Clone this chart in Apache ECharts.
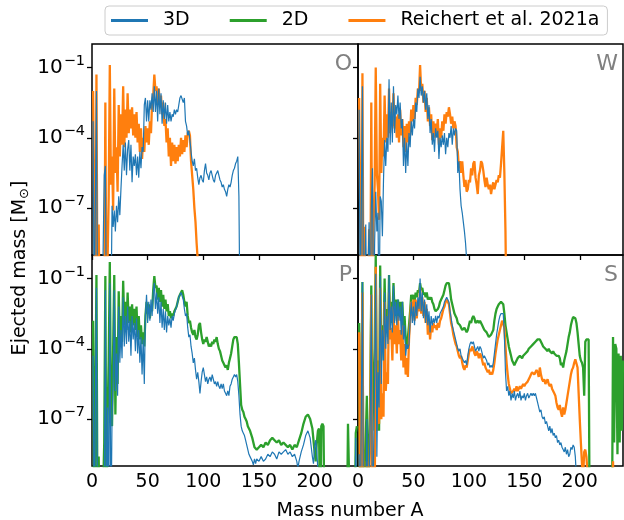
<!DOCTYPE html>
<html><head><meta charset="utf-8">
<script src="https://cdn.jsdelivr.net/npm/echarts@6/dist/echarts.min.js"></script>
<style>html,body{margin:0;padding:0;background:#fff}#c{width:624px;height:520px}</style>
</head><body><div id="c"></div>
<script>
// Panel labels and legend names
const PANEL_LABELS = ['O', 'W', 'P', 'S'];
const NAME_3D = '3D', NAME_2D = '2D', NAME_R21 = 'Reichert et al. 2021a';
// Axis ticks: mass number A, and log10 of ejected mass (decade exponents)
const X_MIN = 0, X_MAX = 239, X_STEP = 50;
const Y_MIN_EXP = -9, Y_MAX_EXP = 0;
const Y_TICK_EXP = [-7, -4, -1];

// Data: [mass number A, log10(ejected mass / Msun)]; values below 1e-9 leave the plot
const O_3D = [[1,-3.3],[2,-12],[3,-12],[4,-2.0],[5,-12],[6,-12],[7,-12],[8,-12],[9,-12],[10,-12],[11,-5.6],[12,-5.2],[13,-12],[14,-12],[15,-12],[16,-12],[17,-12],[18,-6.9],[19,-7.8],[20,-7.1],[21,-8.0],[22,-6.9],[23,-7.6],[24,-6.5],[25,-7.3],[26,-6.2],[27,-5.2],[28,-4.3],[29,-5.4],[30,-4.2],[31,-5.6],[32,-4.5],[33,-4.1],[34,-5.4],[35,-4.3],[36,-5.9],[37,-4.8],[38,-5.2],[39,-4.7],[40,-5.6],[41,-4.8],[42,-5.7],[43,-4.6],[44,-5.3],[45,-4.4],[46,-4.6],[47,-2.6],[48,-2.3],[49,-3.3],[50,-2.4],[51,-3.3],[52,-2.4],[53,-2.8],[54,-2.1],[55,-2.9],[56,-1.8],[57,-2.9],[58,-2.0],[59,-3.3],[60,-1.9],[61,-3.0],[62,-2.1],[63,-3.4],[64,-2.4],[65,-3.2],[66,-2.5],[67,-3.4],[68,-2.6],[69,-3.3],[70,-2.9],[71,-3.3],[72,-3.0],[73,-3.1],[74,-2.8],[75,-3.0],[76,-2.8],[77,-2.9],[78,-2.6],[79,-2.3],[80,-2.2],[81,-2.2],[82,-2.5],[83,-2.3],[84,-3.3],[85,-3.5],[86,-3.9],[87,-3.7],[88,-4.1],[89,-4.6],[90,-5.0],[91,-5.2],[92,-4.9],[93,-5.4],[94,-5.3],[95,-5.7],[96,-6.0],[97,-5.7],[98,-5.6],[99,-5.8],[100,-5.9],[101,-5.4],[102,-5.1],[103,-5.5],[104,-5.6],[105,-5.8],[106,-5.5],[107,-5.4],[108,-5.6],[109,-5.8],[110,-5.9],[111,-5.6],[112,-5.5],[113,-5.4],[114,-5.6],[115,-5.8],[116,-5.9],[117,-6.1],[118,-6.0],[119,-6.2],[120,-6.3],[121,-6.5],[122,-6.2],[123,-6.0],[124,-6.1],[125,-5.9],[126,-5.6],[127,-5.4],[128,-5.3],[129,-5.1],[130,-5.0],[131,-4.8],[132,-6.5],[133,-12]];
const O_R21 = [[1,-2.0],[2,-2.0],[3,-12],[4,-1.3],[5,-12],[6,-7.7],[7,-12],[8,-12],[9,-12],[10,-12],[11,-12],[12,-2.5],[13,-12],[14,-12],[15,-6.5],[16,-0.9],[17,-6.0],[18,-4.8],[19,-7.1],[20,-1.9],[21,-5.5],[22,-4.4],[23,-6.3],[24,-2.6],[25,-4.8],[26,-3.0],[27,-4.3],[28,-1.8],[29,-4.4],[30,-2.8],[31,-4.0],[32,-2.1],[33,-3.8],[34,-2.8],[35,-3.6],[36,-2.7],[37,-3.9],[38,-3.0],[39,-4.0],[40,-2.9],[41,-4.2],[42,-3.4],[43,-4.6],[44,-3.6],[45,-4.9],[46,-4.0],[47,-4.6],[48,-3.5],[49,-4.2],[50,-3.6],[51,-4.3],[52,-3.3],[53,-3.8],[54,-2.5],[55,-2.2],[56,-1.3],[57,-2.0],[58,-1.8],[59,-2.6],[60,-1.9],[61,-2.7],[62,-2.2],[63,-3.0],[64,-2.5],[65,-3.5],[66,-3.2],[67,-4.2],[68,-3.6],[69,-4.8],[70,-4.0],[71,-5.2],[72,-4.2],[73,-5.0],[74,-4.3],[75,-5.1],[76,-4.4],[77,-5.0],[78,-4.3],[79,-4.8],[80,-4.0],[81,-4.7],[82,-4.1],[83,-4.6],[84,-3.9],[85,-4.4],[86,-3.8],[87,-3.7],[88,-3.9],[89,-5.0],[90,-5.6],[91,-6.2],[92,-7.0],[93,-7.6],[94,-8.5],[95,-9.2],[96,-12]];
const W_3D = [[1,-2.8],[2,-12],[3,-12],[4,-1.8],[5,-12],[6,-12],[7,-7.7],[8,-12],[9,-12],[10,-7.6],[11,-12],[12,-7.0],[13,-5.3],[14,-12],[15,-8.5],[16,-6.3],[17,-8.0],[18,-7.2],[19,-12],[20,-6.5],[21,-6.7],[22,-8.2],[23,-5.8],[24,-4.1],[25,-5.2],[26,-4.0],[27,-4.6],[28,-1.5],[29,-4.3],[30,-2.5],[31,-4.2],[32,-1.8],[33,-3.8],[34,-2.6],[35,-3.0],[36,-2.2],[37,-3.2],[38,-2.5],[39,-3.6],[40,-3.2],[41,-5.2],[42,-4.0],[43,-5.5],[44,-4.2],[45,-5.2],[46,-3.8],[47,-4.4],[48,-3.3],[49,-3.9],[50,-3.2],[51,-3.6],[52,-2.5],[53,-2.9],[54,-1.9],[55,-2.3],[56,-1.4],[57,-2.2],[58,-1.8],[59,-2.5],[60,-2.0],[61,-2.8],[62,-2.1],[63,-3.2],[64,-2.6],[65,-3.8],[66,-3.2],[67,-4.3],[68,-3.8],[69,-4.6],[70,-3.6],[71,-4.0],[72,-3.7],[73,-4.9],[74,-4.0],[75,-4.4],[76,-3.9],[77,-4.3],[78,-3.8],[79,-4.7],[80,-4.0],[81,-4.4],[82,-3.8],[83,-4.0],[84,-3.5],[85,-4.3],[86,-3.6],[87,-3.9],[88,-3.6],[89,-3.7],[90,-5.5],[91,-5.0],[92,-6.2],[93,-6.9],[94,-7.2],[95,-7.6],[96,-8.0],[97,-8.5],[98,-9.2],[99,-12]];
const W_R21 = [[1,-2.3],[2,-2.3],[3,-12],[4,-1.25],[5,-12],[6,-7.8],[7,-12],[8,-12],[9,-12],[10,-7.9],[11,-12],[12,-2.5],[13,-12],[14,-7.6],[15,-6.0],[16,-1.0],[17,-5.5],[18,-6.2],[19,-7.5],[20,-1.7],[21,-5.5],[22,-4.0],[23,-4.8],[24,-2.2],[25,-4.2],[26,-3.0],[27,-4.0],[28,-1.9],[29,-3.8],[30,-2.9],[31,-3.5],[32,-2.1],[33,-3.6],[34,-3.1],[35,-4.0],[36,-3.0],[37,-4.2],[38,-2.8],[39,-3.9],[40,-3.2],[41,-4.4],[42,-3.5],[43,-4.6],[44,-3.4],[45,-4.2],[46,-3.3],[47,-3.9],[48,-2.8],[49,-3.3],[50,-2.6],[51,-3.2],[52,-2.3],[53,-2.6],[54,-1.9],[55,-2.1],[56,-0.9],[57,-2.0],[58,-1.7],[59,-2.5],[60,-2.0],[61,-2.9],[62,-2.3],[63,-3.3],[64,-2.7],[65,-3.5],[66,-3.0],[67,-4.1],[68,-3.3],[69,-4.0],[70,-3.4],[71,-3.8],[72,-3.2],[73,-4.3],[74,-3.6],[75,-4.0],[76,-3.3],[77,-3.7],[78,-3.0],[79,-3.4],[80,-2.9],[81,-3.1],[82,-2.7],[83,-3.0],[84,-3.4],[85,-3.1],[86,-3.6],[87,-3.3],[88,-3.5],[89,-4.4],[90,-4.6],[91,-5.3],[92,-5.0],[93,-5.5],[94,-5.0],[95,-5.6],[96,-6.1],[97,-5.8],[98,-6.3],[99,-6.2],[100,-5.8],[101,-5.9],[102,-5.3],[103,-5.6],[104,-5.1],[105,-5.0],[106,-5.7],[107,-6.0],[108,-6.4],[109,-5.6],[110,-5.4],[111,-5.0],[112,-5.1],[113,-5.4],[114,-5.8],[115,-6.1],[116,-5.7],[117,-6.0],[118,-6.2],[119,-6.0],[120,-6.4],[121,-6.1],[122,-5.9],[123,-6.2],[124,-6.0],[125,-5.8],[126,-5.9],[127,-5.6],[128,-5.7],[129,-5.1],[130,-4.4],[131,-3.7],[132,-5.5],[133,-8.0],[134,-12]];
const P_3D = [[1,-4.3],[2,-12],[3,-12],[4,-1.4],[5,-12],[6,-12],[7,-12],[8,-12],[9,-12],[10,-12],[11,-12],[12,-1.5],[13,-12],[14,-6.5],[15,-12],[16,-1.2],[17,-12],[18,-6.9],[19,-5.6],[20,-1.5],[21,-5.8],[22,-4.2],[23,-6.0],[24,-2.2],[25,-4.6],[26,-3.2],[27,-4.4],[28,-1.8],[29,-3.9],[30,-2.6],[31,-3.8],[32,-2.2],[33,-3.7],[34,-2.8],[35,-4.3],[36,-2.6],[37,-3.6],[38,-2.9],[39,-4.1],[40,-2.7],[41,-4.2],[42,-3.2],[43,-4.6],[44,-3.5],[45,-5.1],[46,-3.6],[47,-5.5],[48,-2.6],[49,-1.7],[50,-2.9],[51,-2.0],[52,-2.8],[53,-1.9],[54,-2.6],[55,-1.6],[56,-1.2],[57,-2.3],[58,-1.6],[59,-2.5],[60,-1.8],[61,-2.9],[62,-2.0],[63,-3.1],[64,-2.3],[65,-3.2],[66,-2.4],[67,-3.3],[68,-2.6],[69,-3.0],[70,-2.7],[71,-3.1],[72,-2.6],[73,-2.8],[74,-2.5],[75,-2.5],[76,-2.2],[77,-2.0],[78,-1.8],[79,-1.7],[80,-1.6],[81,-1.6],[82,-1.9],[83,-2.3],[84,-2.6],[85,-2.5],[86,-3.1],[87,-3.5],[88,-3.4],[89,-3.9],[90,-4.2],[91,-4.6],[92,-4.4],[93,-4.9],[94,-5.3],[95,-5.0],[96,-5.4],[97,-5.9],[98,-5.4],[99,-5.0],[100,-4.8],[101,-5.1],[102,-5.4],[103,-5.2],[104,-5.5],[105,-5.3],[106,-5.2],[107,-5.4],[108,-5.1],[109,-5.3],[110,-5.5],[111,-5.4],[112,-5.6],[113,-5.4],[114,-5.6],[115,-5.7],[116,-5.5],[117,-5.7],[118,-5.5],[119,-5.8],[120,-5.9],[121,-6.0],[122,-5.8],[123,-6.0],[124,-5.6],[125,-5.5],[126,-5.3],[127,-5.2],[128,-5.1],[129,-5.2],[130,-5.1],[131,-5.4],[132,-6.0],[133,-6.8],[134,-7.3],[135,-7.5],[136,-7.6],[137,-7.7],[138,-7.9],[139,-8.1],[140,-8.3],[141,-8.5],[142,-8.6],[144,-8.8],[145,-8.95],[146,-8.7],[147,-8.9],[148,-8.7],[150,-8.8],[152,-8.6],[154,-8.8],[156,-8.7],[158,-8.5],[160,-8.6],[162,-8.4],[164,-8.5],[166,-8.7],[168,-8.4],[170,-8.5],[172,-8.4],[174,-8.3],[176,-8.5],[178,-8.4],[180,-8.6],[182,-8.5],[184,-8.8],[185,-9.1],[186,-8.8],[188,-8.4],[190,-8.1],[192,-7.7],[194,-7.5],[195,-7.5],[196,-7.8],[197,-8.2],[198,-8.6],[199,-8.9],[200,-8.2],[201,-7.9],[202,-8.4],[203,-9.2],[204,-12],[236,-12],[237,-7.8],[238,-12]];
const P_2D = [[1,-2.8],[2,-12],[3,-12],[4,-0.85],[5,-12],[6,-8.6],[7,-12],[8,-12],[9,-12],[10,-12],[11,-8.0],[12,-0.9],[13,-12],[14,-7.0],[15,-4.5],[16,-0.3],[17,-6.5],[18,-7.3],[19,-4.0],[20,-0.85],[21,-6.8],[22,-3.5],[23,-5.5],[24,-1.55],[25,-3.8],[26,-2.6],[27,-3.7],[28,-1.1],[29,-3.0],[30,-2.0],[31,-3.2],[32,-1.6],[33,-2.9],[34,-2.2],[35,-3.3],[36,-2.1],[37,-3.0],[38,-2.3],[39,-3.2],[40,-2.2],[41,-3.5],[42,-2.6],[43,-3.6],[44,-3.0],[45,-3.8],[46,-3.3],[47,-3.9],[48,-2.6],[49,-2.0],[50,-2.5],[51,-2.1],[52,-2.7],[53,-2.2],[54,-2.4],[55,-1.5],[56,-0.9],[57,-1.4],[58,-1.3],[59,-1.9],[60,-1.4],[61,-2.0],[62,-1.5],[63,-2.2],[64,-1.7],[65,-2.3],[66,-1.9],[67,-2.4],[68,-2.1],[69,-2.6],[70,-2.4],[71,-2.7],[72,-2.5],[73,-2.6],[74,-2.4],[75,-2.4],[76,-2.2],[77,-2.0],[78,-1.8],[79,-1.7],[80,-1.6],[81,-1.5],[82,-1.7],[83,-2.0],[84,-2.2],[85,-2.0],[86,-2.6],[87,-2.9],[88,-2.8],[89,-3.1],[90,-3.3],[91,-3.4],[92,-3.2],[93,-3.5],[94,-3.6],[95,-3.4],[96,-3.0],[97,-2.9],[98,-3.3],[99,-3.6],[100,-3.8],[101,-3.6],[102,-3.7],[103,-3.5],[104,-3.7],[105,-3.9],[106,-3.8],[107,-3.9],[108,-3.7],[109,-3.8],[110,-3.6],[111,-3.7],[112,-3.5],[113,-3.8],[114,-4.0],[115,-4.1],[116,-4.3],[117,-4.5],[118,-4.6],[119,-4.7],[120,-4.8],[121,-4.7],[122,-4.9],[123,-4.6],[124,-4.4],[125,-4.2],[126,-3.9],[127,-3.6],[128,-3.5],[129,-3.45],[130,-3.5],[131,-3.8],[132,-4.6],[133,-5.5],[134,-6.4],[135,-6.6],[136,-6.7],[137,-6.9],[138,-7.0],[139,-7.1],[140,-7.3],[142,-7.5],[144,-7.8],[146,-8.2],[148,-8.3],[150,-8.2],[152,-8.1],[154,-8.2],[156,-8.0],[158,-8.1],[160,-7.9],[162,-7.8],[164,-7.9],[166,-8.0],[168,-7.9],[170,-8.1],[172,-8.0],[174,-8.1],[176,-8.2],[178,-8.1],[180,-8.3],[182,-8.1],[184,-8.2],[186,-7.9],[188,-7.6],[190,-7.2],[192,-6.9],[194,-6.8],[196,-7.0],[198,-7.4],[199,-7.9],[200,-8.4],[201,-8.8],[202,-8.0],[203,-7.5],[204,-7.4],[205,-12],[206,-7.3],[207,-7.2],[208,-7.3],[209,-12],[229,-12],[230,-7.2],[231,-9.5],[232,-12],[236,-12],[237,-7.6],[238,-7.3]];
const S_3D = [[1,-8.5],[2,-12],[3,-12],[4,-1.15],[5,-12],[6,-12],[7,-12],[8,-7.0],[9,-12],[10,-12],[11,-7.0],[12,-1.7],[13,-12],[14,-8.7],[15,-5.2],[16,-0.8],[17,-8.6],[18,-5.0],[19,-6.5],[20,-0.9],[21,-5.5],[22,-3.2],[23,-4.5],[24,-1.6],[25,-4.0],[26,-2.6],[27,-3.8],[28,-0.85],[29,-3.2],[30,-2.2],[31,-3.3],[32,-1.3],[33,-2.9],[34,-2.0],[35,-3.0],[36,-1.9],[37,-2.8],[38,-2.2],[39,-3.4],[40,-2.0],[41,-3.6],[42,-3.0],[43,-4.3],[44,-3.8],[45,-4.0],[46,-3.8],[47,-2.8],[48,-2.0],[49,-2.9],[50,-2.2],[51,-3.0],[52,-2.0],[53,-2.6],[54,-1.8],[55,-2.3],[56,-1.0],[57,-2.4],[58,-1.6],[59,-2.7],[60,-1.9],[61,-2.9],[62,-2.1],[63,-3.0],[64,-2.4],[65,-3.3],[66,-2.6],[67,-3.0],[68,-2.7],[69,-2.9],[70,-2.6],[71,-2.9],[72,-2.6],[73,-2.7],[74,-2.5],[75,-2.4],[76,-2.3],[77,-2.2],[78,-2.0],[79,-1.9],[80,-1.8],[81,-1.85],[82,-2.0],[83,-2.4],[84,-2.7],[85,-3.0],[86,-3.2],[87,-3.4],[88,-3.6],[89,-3.8],[90,-4.0],[91,-4.1],[92,-4.0],[93,-4.3],[94,-4.4],[95,-4.5],[96,-4.6],[97,-4.5],[98,-4.7],[99,-4.3],[100,-4.0],[101,-3.8],[102,-3.7],[103,-3.8],[104,-3.7],[105,-3.9],[106,-4.1],[107,-4.0],[108,-3.9],[109,-4.1],[110,-3.9],[111,-4.0],[112,-4.2],[113,-4.4],[114,-4.3],[115,-4.4],[116,-4.5],[117,-4.7],[118,-4.6],[119,-4.8],[120,-4.7],[121,-4.8],[122,-4.6],[123,-4.2],[124,-3.8],[125,-3.4],[126,-3.1],[127,-2.8],[128,-2.6],[129,-2.5],[130,-2.45],[131,-2.5],[132,-3.4],[133,-5.0],[134,-5.8],[135,-5.6],[136,-6.0],[137,-5.8],[138,-6.2],[139,-5.9],[140,-6.1],[141,-5.8],[142,-6.2],[143,-6.0],[144,-5.9],[145,-6.1],[146,-5.8],[147,-6.2],[148,-6.0],[149,-6.1],[150,-5.9],[151,-6.2],[152,-6.0],[153,-5.9],[154,-6.1],[155,-6.0],[156,-5.9],[157,-6.0],[158,-5.9],[159,-6.0],[160,-5.9],[161,-6.1],[162,-6.3],[163,-6.5],[164,-6.7],[165,-6.6],[166,-6.9],[167,-7.0],[168,-6.9],[169,-7.2],[170,-7.1],[171,-7.3],[172,-7.5],[173,-7.3],[174,-7.6],[175,-7.4],[176,-7.7],[177,-7.6],[178,-7.8],[179,-7.7],[180,-8.0],[181,-7.9],[182,-8.1],[183,-8.0],[184,-8.2],[185,-8.3],[186,-8.4],[187,-8.2],[188,-8.5],[189,-8.3],[190,-8.6],[191,-8.5],[192,-8.2],[193,-8.3],[194,-8.1],[195,-8.2],[196,-8.6],[197,-9.5],[198,-12]];
const S_2D = [[1,-2.9],[2,-12],[3,-12],[4,-1.15],[5,-12],[6,-12],[7,-7.8],[8,-6.0],[9,-12],[10,-8.5],[11,-6.2],[12,-1.3],[13,-7.5],[14,-5.5],[15,-4.0],[16,0.0],[17,-6.0],[18,-4.5],[19,-7.5],[20,-0.45],[21,-4.5],[22,-3.0],[23,-3.8],[24,-1.0],[25,-3.3],[26,-2.3],[27,-3.5],[28,-0.85],[29,-3.0],[30,-2.0],[31,-2.9],[32,-1.2],[33,-2.6],[34,-1.9],[35,-2.8],[36,-1.9],[37,-2.6],[38,-2.0],[39,-2.8],[40,-2.0],[41,-3.2],[42,-2.6],[43,-3.6],[44,-4.0],[45,-3.5],[46,-3.0],[47,-2.4],[48,-1.7],[49,-1.9],[50,-1.7],[51,-2.0],[52,-1.6],[53,-1.8],[54,-1.5],[55,-1.6],[56,-1.2],[57,-1.5],[58,-1.4],[59,-1.7],[60,-1.6],[61,-1.8],[62,-1.6],[63,-1.9],[64,-1.8],[65,-1.9],[66,-1.8],[67,-2.0],[68,-2.1],[69,-2.3],[70,-2.4],[71,-2.4],[72,-2.3],[73,-2.2],[74,-2.0],[75,-1.9],[76,-1.9],[77,-1.7],[78,-1.5],[79,-1.3],[80,-1.2],[81,-1.15],[82,-1.2],[83,-1.5],[84,-1.9],[85,-2.1],[86,-2.3],[87,-2.5],[88,-2.6],[89,-2.7],[90,-2.9],[91,-2.9],[92,-3.0],[93,-3.1],[94,-3.2],[95,-3.2],[96,-3.1],[97,-3.2],[98,-3.3],[99,-3.2],[100,-3.0],[101,-2.8],[102,-2.9],[103,-2.7],[104,-2.6],[105,-2.7],[106,-2.9],[107,-2.9],[108,-2.8],[109,-2.9],[110,-2.8],[111,-2.8],[112,-3.0],[113,-3.1],[114,-3.2],[115,-3.2],[116,-3.3],[117,-3.4],[118,-3.5],[119,-3.5],[120,-3.4],[121,-3.3],[122,-3.2],[123,-2.8],[124,-2.5],[125,-2.3],[126,-2.2],[127,-2.1],[128,-2.05],[129,-2.0],[130,-2.0],[131,-2.1],[132,-2.5],[133,-3.0],[134,-3.3],[135,-3.6],[136,-3.9],[137,-4.1],[138,-4.3],[139,-4.5],[140,-4.6],[141,-4.7],[142,-4.6],[143,-4.5],[144,-4.4],[145,-4.4],[146,-4.3],[147,-4.3],[148,-4.4],[149,-4.3],[150,-4.3],[151,-4.2],[152,-4.2],[153,-4.1],[154,-4.0],[155,-4.0],[156,-3.9],[157,-3.9],[158,-3.8],[159,-3.8],[160,-3.7],[161,-3.7],[162,-3.6],[163,-3.55],[164,-3.6],[165,-3.7],[166,-3.8],[167,-3.9],[168,-3.9],[169,-4.0],[170,-4.0],[171,-4.1],[172,-4.0],[173,-4.1],[174,-4.1],[175,-4.2],[176,-4.1],[177,-4.2],[178,-4.2],[179,-4.3],[180,-4.3],[181,-4.3],[182,-4.4],[183,-4.7],[184,-4.6],[185,-4.8],[186,-4.5],[187,-4.3],[188,-4.1],[189,-3.8],[190,-3.5],[191,-3.3],[192,-3.0],[193,-2.8],[194,-2.65],[195,-2.6],[196,-2.7],[197,-2.9],[198,-3.3],[199,-3.8],[200,-4.3],[201,-4.5],[202,-4.6],[203,-4.8],[204,-6.0],[205,-3.7],[206,-3.6],[207,-3.6],[208,-3.6],[209,-12],[229,-12],[230,-3.5],[231,-8.0],[232,-3.8],[233,-4.0],[234,-8.5],[235,-4.2],[236,-8.0],[237,-4.3],[238,-7.5],[239,-4.5]];
const S_R21 = [[1,-3.3],[2,-12],[3,-12],[4,-1.6],[5,-12],[6,-12],[7,-12],[8,-8.8],[9,-12],[10,-12],[11,-7.5],[12,-1.7],[13,-12],[14,-8.5],[15,-12],[16,-0.5],[17,-7.5],[18,-6.5],[19,-7.2],[20,-1.4],[21,-7.0],[22,-5.9],[23,-6.9],[24,-2.0],[25,-5.8],[26,-5.0],[27,-5.5],[28,-1.6],[29,-3.6],[30,-3.1],[31,-4.5],[32,-2.2],[33,-3.8],[34,-3.0],[35,-4.2],[36,-2.6],[37,-3.8],[38,-3.2],[39,-4.5],[40,-3.0],[41,-4.8],[42,-3.8],[43,-5.1],[44,-4.4],[45,-5.2],[46,-3.6],[47,-2.8],[48,-2.0],[49,-2.6],[50,-1.9],[51,-2.8],[52,-1.9],[53,-2.7],[54,-2.0],[55,-2.4],[56,-1.4],[57,-2.5],[58,-1.8],[59,-2.6],[60,-2.0],[61,-2.9],[62,-2.3],[63,-3.4],[64,-2.8],[65,-3.6],[66,-3.0],[67,-3.3],[68,-2.9],[69,-3.1],[70,-3.0],[71,-3.2],[72,-2.9],[73,-3.1],[74,-2.8],[75,-2.7],[76,-2.5],[77,-2.3],[78,-2.2],[79,-2.0],[80,-1.9],[81,-1.95],[82,-2.1],[83,-2.5],[84,-2.9],[85,-3.1],[86,-3.4],[87,-3.6],[88,-3.8],[89,-3.9],[90,-4.1],[91,-4.3],[92,-4.4],[93,-4.3],[94,-4.6],[95,-4.8],[96,-4.9],[97,-4.7],[98,-4.8],[99,-4.5],[100,-4.2],[101,-4.0],[102,-4.1],[103,-3.9],[104,-4.0],[105,-4.2],[106,-4.3],[107,-4.1],[108,-4.2],[109,-4.4],[110,-4.2],[111,-4.3],[112,-4.5],[113,-4.7],[114,-4.6],[115,-4.8],[116,-4.9],[117,-5.0],[118,-4.9],[119,-5.1],[120,-5.0],[121,-5.1],[122,-4.9],[123,-4.6],[124,-4.2],[125,-3.9],[126,-3.6],[127,-3.4],[128,-3.2],[129,-3.0],[130,-2.8],[131,-2.75],[132,-3.1],[133,-3.9],[134,-4.6],[135,-5.1],[136,-5.5],[137,-5.7],[138,-5.9],[139,-5.9],[140,-5.8],[141,-5.7],[142,-5.8],[143,-5.6],[144,-5.8],[145,-5.7],[146,-5.6],[147,-5.7],[148,-5.6],[149,-5.5],[150,-5.6],[151,-5.5],[152,-5.5],[153,-5.4],[154,-5.4],[155,-5.2],[156,-5.1],[157,-5.0],[158,-5.0],[159,-5.1],[160,-5.0],[161,-4.9],[162,-5.0],[163,-5.2],[164,-4.8],[165,-5.1],[166,-5.3],[167,-5.4],[168,-5.3],[169,-5.5],[170,-5.4],[171,-5.3],[172,-5.5],[173,-5.6],[174,-5.5],[175,-5.7],[176,-5.8],[177,-5.9],[178,-6.0],[179,-6.3],[180,-6.5],[181,-6.6],[182,-6.4],[183,-6.7],[184,-6.9],[185,-6.5],[186,-6.8],[187,-6.6],[188,-6.3],[189,-6.0],[190,-5.7],[191,-5.4],[192,-5.1],[193,-4.9],[194,-4.8],[195,-4.6],[196,-4.45],[197,-4.4],[198,-4.8],[199,-5.9],[200,-7.0],[201,-8.0],[202,-8.9],[203,-9.5],[204,-8.4],[205,-8.3],[206,-8.6],[207,-9.3],[208,-12],[229,-12],[230,-8.8],[231,-12]];

const C_3D = '#1f77b4', C_2D = '#2ca02c', C_R21 = '#ff7f0e';
const FONT = 'DejaVu Sans';

const GRIDS = [
  {left: 92, top: 44, width: 266, height: 211},
  {left: 358, top: 44, width: 265, height: 211},
  {left: 92, top: 255, width: 266, height: 211},
  {left: 358, top: 255, width: 265, height: 211}
];

function mkLine(name, data, idx, color, width) {
  return {
    type: 'line', name: name, data: data, xAxisIndex: idx, yAxisIndex: idx,
    color: color, symbol: 'none', showSymbol: false, clip: true,
    lineStyle: {color: color, width: width}, emphasis: {disabled: true},
    animation: false
  };
}

const tickStyle = {show: true, length: 5, lineStyle: {color: '#000', width: 1.3}};

const xAxes = GRIDS.map((g, i) => ({
  type: 'value', gridIndex: i, min: X_MIN, max: X_MAX, interval: X_STEP,
  show: i >= 2,
  axisLine: {show: false},
  axisTick: tickStyle,
  splitLine: {show: false},
  axisLabel: {show: i >= 2, fontSize: 19, fontFamily: FONT, color: '#000', margin: 7,
    showMaxLabel: false, showMinLabel: true, hideOverlap: false, formatter: v => String(v)}
}));

const yAxes = GRIDS.map((g, i) => ({
  type: 'value', gridIndex: i, min: Y_MIN_EXP, max: Y_MAX_EXP,
  axisLine: {show: false},
  splitLine: {show: false},
  axisTick: Object.assign({customValues: Y_TICK_EXP}, tickStyle),
  axisLabel: {
    show: i % 2 === 0, customValues: Y_TICK_EXP, margin: 7,
    formatter: v => '{b|10}{s|\u2212' + Math.abs(v) + '}',
    rich: {
      b: {fontSize: 20, fontFamily: FONT, color: '#000', lineHeight: 28},
      s: {fontSize: 14.5, fontFamily: FONT, color: '#000', lineHeight: 14, verticalAlign: 'top', padding: [0, 0, 0, 1]}
    }
  }
}));

const letterPos = [[352, 64], [618, 64], [352, 275], [618, 275]];

const option = {
  animation: false,
  backgroundColor: '#fff',
  grid: GRIDS.map(g => Object.assign({show: true, borderColor: '#000', borderWidth: 1.5,
    backgroundColor: 'transparent', containLabel: false, outerBoundsMode: 'none'}, g)),
  xAxis: xAxes,
  yAxis: yAxes,
  legend: {
    data: [NAME_3D, NAME_2D, NAME_R21],
    left: 105, top: 6, padding: [5, 8, 5, 6],
    icon: 'rect', itemWidth: 37, itemHeight: 3, itemGap: 40,
    borderColor: '#cccccc', borderWidth: 1, borderRadius: 4, backgroundColor: '#fff',
    textStyle: {fontSize: 19, fontFamily: FONT, color: '#000', padding: [0, 0, 0, 10]},
    selectedMode: false
  },
  series: [
    mkLine(NAME_2D, P_2D, 2, C_2D, 2.3),
    mkLine(NAME_2D, S_2D, 3, C_2D, 2.3),
    mkLine(NAME_R21, O_R21, 0, C_R21, 2.3),
    mkLine(NAME_R21, W_R21, 1, C_R21, 2.3),
    mkLine(NAME_R21, S_R21, 3, C_R21, 2.3),
    mkLine(NAME_3D, O_3D, 0, C_3D, 1.2),
    mkLine(NAME_3D, W_3D, 1, C_3D, 1.2),
    mkLine(NAME_3D, P_3D, 2, C_3D, 1.2),
    mkLine(NAME_3D, S_3D, 3, C_3D, 1.2)
  ],
  graphic: PANEL_LABELS.map((t, i) => ({
    type: 'text', x: letterPos[i][0], y: letterPos[i][1], z: 100,
    style: {text: t, fill: '#808080', fontSize: 22, fontFamily: FONT, align: 'right', verticalAlign: 'middle'}
  })).concat([
    {type: 'text', x: 20, y: 268, rotation: Math.PI / 2, z: 100,
     style: {text: 'Ejected mass [M{sub|\u2299}]', fill: '#000', fontSize: 19, fontFamily: FONT,
       lineHeight: 22, align: 'center', verticalAlign: 'middle',
       rich: {sub: {fontSize: 13, fontFamily: FONT, fill: '#000', lineHeight: 13, verticalAlign: 'bottom'}}}},
    {type: 'text', x: 350, y: 511, z: 100,
     style: {text: 'Mass number A', fill: '#000', fontSize: 19, fontFamily: FONT, align: 'center', verticalAlign: 'middle'}}
  ])
};

const chart = echarts.init(document.getElementById('c'), null, {renderer: 'canvas'});
chart.setOption(option);
</script>
</body></html>
